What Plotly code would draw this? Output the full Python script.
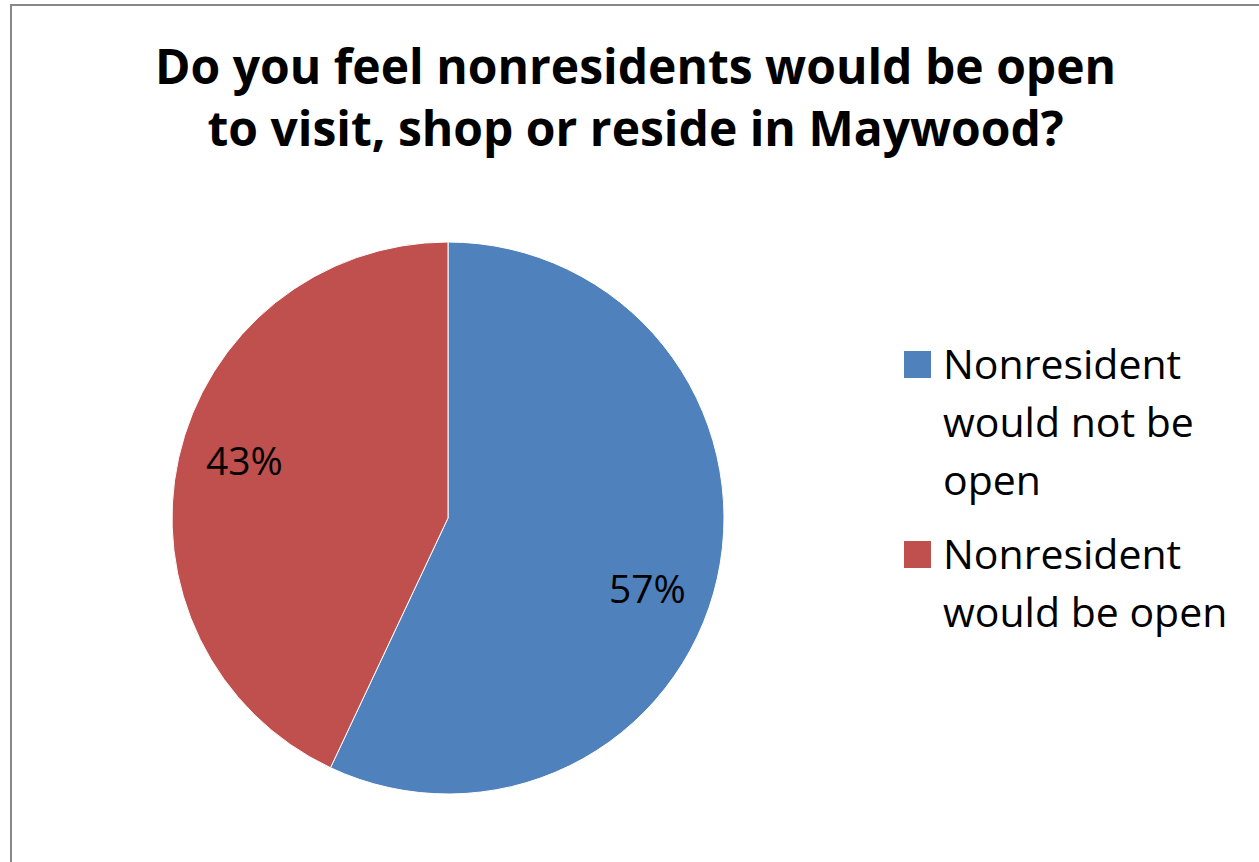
import plotly.graph_objects as go

# Survey responses
labels = ["Nonresident would not be open", "Nonresident would be open"]
legend_lines = [["Nonresident", "would not be", "open"], ["Nonresident", "would be open"]]
values = [57, 43]
colors = ["#4F81BD", "#C0504D"]
title_text = "Do you feel nonresidents would be open<br>to visit, shop or reside in Maywood?"

W, H = 1259, 862
FONT = "Open Sans"


def px(x):
    return x / W


def py(y):
    return 1 - y / H


fig = go.Figure()
fig.add_trace(go.Pie(
    labels=labels,
    values=values,
    marker=dict(colors=colors, line=dict(color="white", width=1)),
    sort=False,
    direction="clockwise",
    rotation=0,
    textinfo="none",
    hoverinfo="label+percent",
    showlegend=False,
    domain=dict(x=[px(172), px(724)], y=[py(794), py(242)]),
))

total = sum(values)
# percentage labels placed inside the slices
label_pos = [(648, 587), (244, 459)]
annotations = []
for v, (x, y) in zip(values, label_pos):
    annotations.append(dict(
        x=px(x), y=py(y), xref="paper", yref="paper",
        text=f"{round(v / total * 100)}%", showarrow=False,
        font=dict(family=FONT, size=39, color="black"),
        xanchor="center", yanchor="middle",
    ))

# title
annotations.append(dict(
    x=px(635), y=py(96), xref="paper", yref="paper",
    text=title_text, showarrow=False,
    font=dict(family=FONT, size=48, color="black", weight="bold"),
    xanchor="center", yanchor="middle",
))

# legend drawn as swatches plus text, one annotation per line
shapes = []
legend_tops = [351, 541]
line_gap = 58
for lines, col, top in zip(legend_lines, colors, legend_tops):
    shapes.append(dict(
        type="rect", xref="paper", yref="paper",
        x0=px(904), x1=px(931), y0=py(top), y1=py(top + 27),
        fillcolor=col, line=dict(width=0),
    ))
    for i, line in enumerate(lines):
        annotations.append(dict(
            x=px(941), y=py(top + 12 + i * line_gap), xref="paper", yref="paper",
            text=line, showarrow=False, align="left",
            font=dict(family=FONT, size=41, color="black"),
            xanchor="left", yanchor="middle",
        ))

# chart-area border
shapes.append(dict(
    type="rect", xref="paper", yref="paper",
    x0=px(11), x1=px(W + 20), y0=py(H + 20), y1=py(5),
    line=dict(color="#888888", width=2), fillcolor="rgba(0,0,0,0)",
))

fig.update_layout(
    width=W, height=H,
    margin=dict(l=0, r=0, t=0, b=0),
    paper_bgcolor="white",
    plot_bgcolor="white",
    shapes=shapes,
    annotations=annotations,
)

fig.write_html("out.html")
